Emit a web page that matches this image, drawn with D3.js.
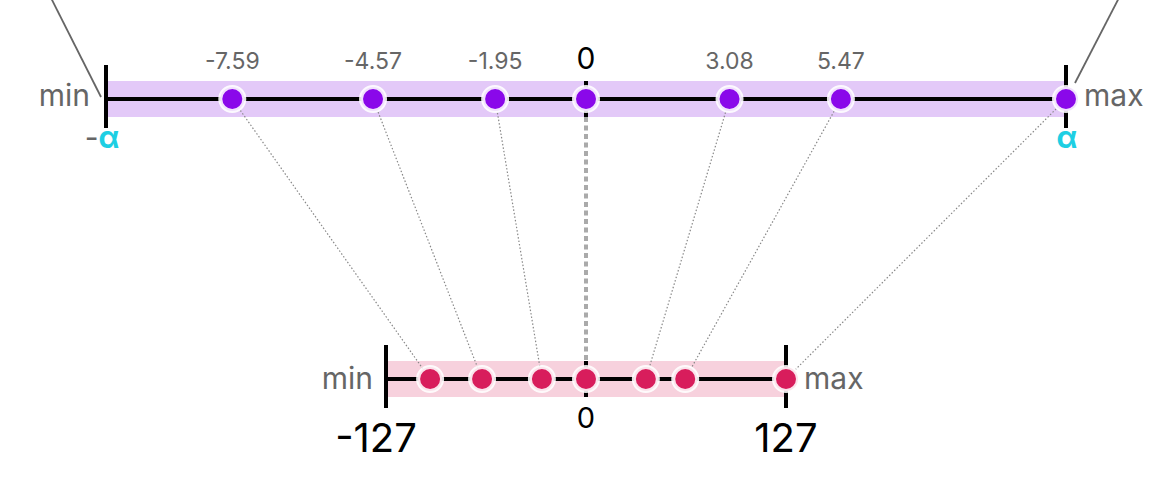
<!DOCTYPE html>
<html>
<head>
<meta charset="utf-8">
<script src="https://cdn.jsdelivr.net/npm/d3@7"></script>
<style>
  body { margin: 0; background: #fff; }
  svg { display: block; font-family: Inter, "Noto Sans", sans-serif; }
</style>
</head>
<body>
<svg id="chart" width="1172" height="498"></svg>
<script>
// original floats, labelled above the top axis
const floatValues = [-7.59, -4.57, -1.95, 0, 3.08, 5.47];
const floatLabels = ["-7.59", "-4.57", "-1.95", "0", "3.08", "5.47"];
// alpha (absolute max) is not printed, estimated from the spacing
const alpha = 10.3;
// quantized ints (last one is the max)
const quantValues = [-99, -66, -28, 0, 38, 63, 127];
const quantRange = [-127, 127];

const svg = d3.select("#chart");

const topY = 99, botY = 379;
const xTop = d3.scaleLinear().domain([-alpha, alpha]).range([106, 1066]);
const xBot = d3.scaleLinear().domain(quantRange).range([386, 786]);

// points incl. the max point on both axes
const topPts = floatValues.concat([alpha]);
const pairs = topPts.map((v, i) => ({ from: v, to: quantValues[i] }));

// guide lines coming from above (zoomed from an earlier panel)
svg.append("line")
    .attr("x1", xTop(-alpha) - 58).attr("y1", -8)
    .attr("x2", xTop(-alpha) - 5).attr("y2", topY - 2)
    .attr("stroke", "#666").attr("stroke-width", 1.8);
svg.append("line")
    .attr("x1", xTop(alpha) + 56).attr("y1", -8)
    .attr("x2", xTop(alpha) + 9).attr("y2", topY - 16)
    .attr("stroke", "#666").attr("stroke-width", 1.8);

// bands
svg.append("rect")
    .attr("x", xTop(-alpha)).attr("y", topY - 18)
    .attr("width", xTop(alpha) - xTop(-alpha)).attr("height", 36)
    .attr("fill", "#e3c9f8");
svg.append("rect")
    .attr("x", xBot(quantRange[0])).attr("y", botY - 18)
    .attr("width", xBot(quantRange[1]) - xBot(quantRange[0])).attr("height", 36)
    .attr("fill", "#f7d1dd");

// zero link, grey dashed
svg.append("line")
    .attr("x1", xTop(0)).attr("y1", topY + 18)
    .attr("x2", xBot(0)).attr("y2", botY - 18)
    .attr("stroke", "#aaa").attr("stroke-width", 4)
    .attr("stroke-dasharray", "5,3.5");

// dotted mapping lines
svg.selectAll("line.map")
    .data(pairs.filter(d => d.from !== 0))
    .join("line")
    .attr("class", "map")
    .attr("x1", d => xTop(d.from)).attr("y1", topY)
    .attr("x2", d => xBot(d.to)).attr("y2", botY)
    .attr("stroke", "#888").attr("stroke-width", 1.2)
    .attr("stroke-dasharray", "1.5,2");

// axis lines
svg.append("line")
    .attr("x1", xTop(-alpha)).attr("x2", xTop(alpha))
    .attr("y1", topY).attr("y2", topY)
    .attr("stroke", "#000").attr("stroke-width", 4);
svg.append("line")
    .attr("x1", xBot(quantRange[0])).attr("x2", xBot(quantRange[1]))
    .attr("y1", botY).attr("y2", botY)
    .attr("stroke", "#000").attr("stroke-width", 4);

// end ticks
[xTop(-alpha), xTop(alpha)].forEach(x => {
    svg.append("line").attr("x1", x).attr("x2", x)
        .attr("y1", topY - 34).attr("y2", topY + 29)
        .attr("stroke", "#000").attr("stroke-width", 4);
});
[xBot(quantRange[0]), xBot(quantRange[1])].forEach(x => {
    svg.append("line").attr("x1", x).attr("x2", x)
        .attr("y1", botY - 34).attr("y2", botY + 29)
        .attr("stroke", "#000").attr("stroke-width", 4);
});
// zero ticks, band height
svg.append("line").attr("x1", xTop(0)).attr("x2", xTop(0))
    .attr("y1", topY - 18).attr("y2", topY + 18)
    .attr("stroke", "#000").attr("stroke-width", 4);
svg.append("line").attr("x1", xBot(0)).attr("x2", xBot(0))
    .attr("y1", botY - 18).attr("y2", botY + 18)
    .attr("stroke", "#000").attr("stroke-width", 4);

// points
svg.selectAll("circle.top")
    .data(topPts)
    .join("circle")
    .attr("class", "top")
    .attr("cx", d => xTop(d)).attr("cy", topY).attr("r", 12)
    .attr("fill", "#8a08ea")
    .attr("stroke", "#fff").attr("stroke-opacity", 0.88).attr("stroke-width", 4);
svg.selectAll("circle.bot")
    .data(quantValues)
    .join("circle")
    .attr("class", "bot")
    .attr("cx", d => xBot(d)).attr("cy", botY).attr("r", 12)
    .attr("fill", "#d81d5c")
    .attr("stroke", "#fff").attr("stroke-opacity", 0.88).attr("stroke-width", 4);

// value labels above top axis
svg.selectAll("text.val")
    .data(floatValues)
    .join("text")
    .attr("class", "val")
    .attr("x", d => xTop(d)).attr("y", 69)
    .attr("text-anchor", "middle")
    .attr("font-size", d => d === 0 ? 30 : 23)
    .attr("fill", d => d === 0 ? "#000" : "#666")
    .text((d, i) => floatLabels[i]);

// min / max words
const word = (x, y, anchor, t) => svg.append("text")
    .attr("x", x).attr("y", y).attr("text-anchor", anchor)
    .attr("font-size", 30).attr("fill", "#666").text(t);
word(xTop(-alpha) - 16, topY + 7, "end", "min");
word(xTop(alpha) + 18, topY + 7, "start", "max");
word(xBot(quantRange[0]) - 13, botY + 10, "end", "min");
word(xBot(quantRange[1]) + 18, botY + 10, "start", "max");

// -alpha / alpha
const la = svg.append("text")
    .attr("x", xTop(-alpha) - 4).attr("y", 148)
    .attr("text-anchor", "middle").attr("font-size", 30);
la.append("tspan").attr("fill", "#666").text("-");
la.append("tspan").attr("fill", "#1ecfe3").attr("font-weight", 700).text("α");
svg.append("text")
    .attr("x", xTop(alpha) + 1).attr("y", 148)
    .attr("text-anchor", "middle").attr("font-size", 30)
    .attr("fill", "#1ecfe3").attr("font-weight", 700).text("α");

// lower axis labels
svg.append("text").attr("x", xBot(0)).attr("y", 428)
    .attr("text-anchor", "middle").attr("font-size", 29).attr("fill", "#000").text("0");
svg.append("text").attr("x", xBot(quantRange[0]) - 10).attr("y", 452)
    .attr("text-anchor", "middle").attr("font-size", 40).attr("fill", "#000").text(quantRange[0]);
svg.append("text").attr("x", xBot(quantRange[1])).attr("y", 452)
    .attr("text-anchor", "middle").attr("font-size", 40).attr("fill", "#000").text(quantRange[1]);
</script>
</body>
</html>
